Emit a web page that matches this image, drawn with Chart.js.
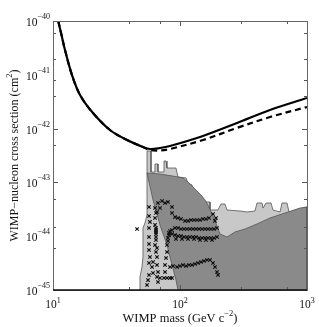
<!DOCTYPE html>
<html>
<head>
<meta charset="utf-8">
<script src="https://cdn.jsdelivr.net/npm/chart.js@4/dist/chart.umd.min.js"></script>
<style>
html,body{margin:0;padding:0;background:#fff;}
#c{display:block;}
</style>
</head>
<body>
<canvas id="c" width="319" height="327"></canvas>
<script>
// ---- data (WIMP mass in GeV c^-2, cross section in cm^2) ----
const solidMass  = [10.56, 10.95, 11.67, 12.43, 14.11, 16.32, 20.65, 28.1, 38.3, 51.1, 58.0, 69.6, 83.4, 151.7, 281, 511, 1000];
const solidSigma = [1.54e-40, 1.04e-40, 5.49e-41, 2.89e-41, 9.9e-42, 4.22e-42, 1.95e-42, 9.42e-43, 6.14e-43, 4.55e-43, 4.18e-43, 4.36e-43, 4.75e-43, 7.3e-43, 1.27e-42, 2.22e-42, 3.71e-42];

const dashedMass  = [10.56, 10.95, 11.67, 12.43, 14.11, 16.32, 20.65, 28.1, 38.3, 51.1, 58.0, 69.6, 83.4, 151.7, 281, 511, 1000];
const dashedSigma = [1.54e-40, 1.04e-40, 5.49e-41, 2.89e-41, 9.9e-42, 4.22e-42, 1.95e-42, 9.42e-43, 6.14e-43, 4.55e-43, 4.0e-43, 3.92e-43, 4.18e-43, 6.14e-43, 1.03e-42, 1.64e-42, 2.52e-42];

const lightMass  = [47.6, 48.4, 50.2, 51.1, 51.1, 51.1, 53.0, 55.0, 55.0, 55.0, 59.1, 59.1, 63.5, 63.5, 67.1, 67.1, 73.5, 74.8, 77.6, 79.0, 93.0, 96.4, 111.5, 115.6, 124.3, 126.6, 136.1, 138.6, 149.0, 157.4, 172.3, 172.3, 199.2, 210.3, 226.1, 234.5, 296.8, 337.0, 389.5, 404.0, 442.3, 450.4, 475.6, 520.7, 539.9, 613.1, 635.6, 695.9, 721.6, 1000, 1000];
const lightSigma = [1e-45, 1.75e-45, 2.68e-45, 4.11e-45, 6.85e-45, 1.42e-44, 1.76e-44, 2.48e-44, 7.23e-44, 3.84e-43, 3.84e-43, 1.56e-43, 1.56e-43, 2.20e-43, 2.20e-43, 1.56e-43, 1.56e-43, 2.50e-43, 2.50e-43, 1.85e-43, 1.85e-43, 1.26e-43, 1.21e-43, 9.75e-44, 8.95e-44, 7.23e-44, 6.64e-44, 5.84e-44, 5.36e-44, 4.32e-44, 4.32e-44, 3.07e-44, 3.07e-44, 3.97e-44, 3.97e-44, 3.07e-44, 2.94e-44, 2.82e-44, 2.94e-44, 4.14e-44, 4.14e-44, 3.34e-44, 4.14e-44, 4.14e-44, 3.07e-44, 2.82e-44, 4.14e-44, 4.14e-44, 2.82e-44, 3.49e-44, 1e-45];

const darkMass  = [96.4, 93.0, 86.5, 79.0, 69.6, 61.3, 55.0, 69.6, 88.1, 105.6, 119.9, 133.7, 146.3, 157.4, 166.1, 175.4, 185.2, 195.6, 206.5, 234.5, 271.0, 325.0, 404.0, 511, 671.2, 880.9, 1000, 1000];
const darkSigma = [1e-45, 1.53e-45, 2.92e-45, 6.85e-45, 1.61e-44, 4.71e-44, 1.50e-43, 1.43e-43, 1.31e-43, 1.21e-43, 9.33e-44, 7.23e-44, 5.84e-44, 4.71e-44, 3.80e-44, 2.82e-44, 2.18e-44, 1.55e-44, 1.10e-44, 9.66e-45, 1.20e-44, 1.36e-44, 1.69e-44, 2.18e-44, 2.70e-44, 3.34e-44, 3.49e-44, 1e-45];

const crossMass = [
  45.9,
  57.0, 57.0, 58.0, 57.0, 57.0, 57.0, 57.0, 58.0, 57.0, 60.2, 57.0, 61.3, 56.0, 55.0,
  63.6, 64.7, 63.6, 63.6, 64.7, 64.7, 64.7, 64.7, 64.7, 64.7, 63.6, 65.9, 64.7, 65.9, 61.3, 65.9, 67.1, 65.9, 67.1, 69.6,
  67.1, 72.2, 76.2, 80.4, 86.5, 69.6, 65.9,
  86.5, 91.3, 96.4, 101.8, 109.5, 115.6, 122.1, 128.9, 136.1, 143.7, 151.7, 160.2, 169.2, 181.9, 192.0, 188.6,
  74.8, 76.2, 76.2, 77.6, 79.0, 79.0, 80.4, 80.4, 81.9, 81.9, 83.4, 86.5, 91.3,
  96.4, 101.8, 107.5, 113.5, 119.9, 126.6, 133.7, 141.1, 149.0, 157.4, 166.1, 175.4, 185.2, 195.6,
  86.5, 91.3, 96.4, 101.8, 107.5, 113.5, 119.9, 126.6, 133.7, 141.1, 149.0, 157.4, 166.1, 175.4, 185.2, 195.6,
  93.0, 103.7, 115.6, 128.9, 143.7, 160.2, 178.6,
  83.4, 88.1, 94.7, 100, 105.6, 111.5, 117.7, 124.3, 131.3, 138.6, 146.3, 154.5, 163.2, 172.3, 181.9, 188.6, 195.6, 199.2,
  79.0, 83.4, 86.5
];
const crossSigma = [
  1.36e-44,
  3.49e-44, 2.37e-44, 1.84e-44, 1.42e-44, 9.66e-45, 7.16e-45, 5.54e-45, 4.11e-45, 3.18e-45, 2.68e-45, 1.90e-45, 2.07e-45, 1.53e-45, 1.24e-45,
  3.34e-44, 2.70e-44, 2.18e-44, 1.62e-44, 1.42e-44, 1.30e-44, 1.20e-44, 1.10e-44, 9.66e-45, 8.50e-45, 6.86e-45, 6.04e-45, 5.09e-45, 4.11e-45, 3.32e-45, 2.92e-45, 2.16e-45, 1.75e-45, 1.41e-45, 1.67e-45,
  4.14e-44, 4.51e-44, 4.14e-44, 4.32e-44, 3.49e-44, 3.34e-44, 2.82e-44,
  2.70e-44, 2.27e-44, 2.18e-44, 2.09e-44, 1.92e-44, 1.92e-44, 2.00e-44, 2.00e-44, 2.00e-44, 2.00e-44, 2.09e-44, 2.09e-44, 2.18e-44, 2.59e-44, 2.18e-44, 1.92e-44,
  1.67e-45, 2.16e-45, 2.92e-45, 3.94e-45, 5.09e-45, 6.86e-45, 8.15e-45, 9.26e-45, 1.05e-44, 1.15e-44, 1.25e-44, 1.30e-44, 1.42e-44,
  1.42e-44, 1.36e-44, 1.36e-44, 1.36e-44, 1.36e-44, 1.36e-44, 1.36e-44, 1.36e-44, 1.36e-44, 1.36e-44, 1.36e-44, 1.36e-44, 1.36e-44, 1.42e-44,
  1.10e-44, 1.05e-44, 1.01e-44, 1.01e-44, 9.66e-45, 9.66e-45, 9.66e-45, 9.66e-45, 9.66e-45, 9.26e-45, 9.26e-45, 9.26e-45, 9.26e-45, 9.26e-45, 9.26e-45, 9.66e-45,
  8.87e-45, 8.87e-45, 8.87e-45, 8.87e-45, 8.50e-45, 8.50e-45, 8.50e-45,
  2.68e-45, 2.79e-45, 2.68e-45, 2.79e-45, 2.92e-45, 2.79e-45, 2.92e-45, 2.92e-45, 3.04e-45, 3.18e-45, 3.32e-45, 3.46e-45, 3.61e-45, 3.61e-45, 3.18e-45, 2.68e-45, 2.16e-45, 1.90e-45,
  1.67e-45, 1.67e-45, 1.67e-45
];

const xTickExponents = [1, 2, 3];
const yTickExponents = [-40, -41, -42, -43, -44, -45];
const xTitle = ["WIMP mass (GeV c", "\u22122", ")"];
const yTitle = ["WIMP\u2212nucleon cross section (cm", "2", ")"];

// ---- helpers ----
const pts = (xs, ys) => xs.map((x, i) => ({x: x, y: ys[i]}));
const SERIF = '"Liberation Serif", "DejaVu Serif", serif';

function drawParts(ctx, parts, x, y, baseSize, supSize, rise, align) {
  const widths = parts.map((t, i) => {
    ctx.font = (i % 2 === 1 ? supSize : baseSize) + 'px ' + SERIF;
    return ctx.measureText(t).width;
  });
  const total = widths.reduce((a, b) => a + b, 0);
  let cx = align === 'center' ? x - total / 2 : (align === 'right' ? x - total : x);
  ctx.textAlign = 'left';
  ctx.textBaseline = 'alphabetic';
  parts.forEach((t, i) => {
    ctx.font = (i % 2 === 1 ? supSize : baseSize) + 'px ' + SERIF;
    ctx.fillText(t, cx, i % 2 === 1 ? y - rise : y);
    cx += widths[i];
  });
}

const framePlugin = {
  id: 'frame',
  afterDraw(chart) {
    const ctx = chart.ctx;
    const a = chart.chartArea;
    const xs = chart.scales.x, ys = chart.scales.y;
    ctx.save();
    ctx.strokeStyle = '#555';
    ctx.lineWidth = 1;
    const mant = v => { const e = Math.floor(Math.log10(v) + 1e-9); return Math.round(v / Math.pow(10, e)); };
    const xt = xs.ticks.map(t => t.value);
    const yt = ys.ticks.map(t => t.value);
    ctx.beginPath();
    xt.forEach(v => {
      const p = Math.round(xs.getPixelForValue(v)) + 0.5;
      const L = mant(v) === 1 ? 5 : 3;
      ctx.moveTo(p, a.bottom); ctx.lineTo(p, a.bottom - L);
      ctx.moveTo(p, a.top); ctx.lineTo(p, a.top + L);
    });
    yt.forEach(v => {
      const p = Math.round(ys.getPixelForValue(v)) + 0.5;
      const L = mant(v) === 1 ? 5 : 3;
      ctx.moveTo(a.left, p); ctx.lineTo(a.left + L, p);
      ctx.moveTo(a.right, p); ctx.lineTo(a.right - L, p);
    });
    ctx.stroke();
    ctx.strokeStyle = '#666';
    ctx.lineWidth = 1;
    ctx.strokeRect(Math.round(a.left) + 0.5, Math.round(a.top) + 0.5, Math.round(a.right - a.left), Math.round(a.bottom - a.top));
    ctx.strokeStyle = '#111';
    ctx.lineWidth = 1.6;
    ctx.beginPath();
    ctx.moveTo(a.left, a.bottom); ctx.lineTo(a.right, a.bottom);
    ctx.stroke();
    ctx.fillStyle = '#111';
    xTickExponents.forEach(e => {
      const p = xs.getPixelForValue(Math.pow(10, e));
      drawParts(ctx, ['10', String(e)], p, a.bottom + 18, 11.5, 8, 5, 'center');
    });
    yTickExponents.forEach(e => {
      const p = ys.getPixelForValue(Math.pow(10, e));
      drawParts(ctx, ['10', '\u2212' + String(-e)], a.left - 3, p + 5, 11.5, 8, 7, 'right');
    });
    drawParts(ctx, xTitle, (a.left + a.right) / 2, a.bottom + 32, 12.5, 8.5, 6, 'center');
    ctx.translate(18, (a.top + a.bottom) / 2);
    ctx.rotate(-Math.PI / 2);
    drawParts(ctx, yTitle, 0, 0, 12, 8.5, 6, 'center');
    ctx.restore();
  }
};

new Chart(document.getElementById('c'), {
  type: 'scatter',
  data: {
    datasets: [
      { label: 'solid', data: pts(solidMass, solidSigma), showLine: true, borderColor: '#000', borderWidth: 2.2, pointRadius: 0, tension: 0.35, fill: false, order: 0 },
      { label: 'dashed', data: pts(dashedMass, dashedSigma), showLine: true, borderColor: '#000', borderWidth: 2.2, borderDash: [6, 4], pointRadius: 0, tension: 0.35, fill: false, order: 1 },
      { label: 'events', data: pts(crossMass, crossSigma), showLine: false, pointStyle: 'crossRot', pointRadius: 2.4, borderColor: '#111', borderWidth: 1.1, backgroundColor: '#111', order: 2 },
      { label: 'dark', data: pts(darkMass, darkSigma), showLine: true, fill: 'shape', backgroundColor: '#8a8a8a', borderColor: '#555', borderWidth: 0.8, pointRadius: 0, tension: 0, order: 3 },
      { label: 'light', data: pts(lightMass, lightSigma), showLine: true, fill: 'shape', backgroundColor: '#c8c8c8', borderColor: '#555', borderWidth: 0.8, pointRadius: 0, tension: 0, order: 4 }
    ]
  },
  options: {
    responsive: false,
    animation: false,
    layout: { padding: { left: 53, right: 12, top: 21, bottom: 37 } },
    plugins: { legend: { display: false }, tooltip: { enabled: false } },
    scales: {
      x: { type: 'logarithmic', min: 10, max: 1000, display: false },
      y: { type: 'logarithmic', min: 1e-45, max: 1e-40, display: false }
    }
  },
  plugins: [framePlugin]
});
</script>
</body>
</html>
